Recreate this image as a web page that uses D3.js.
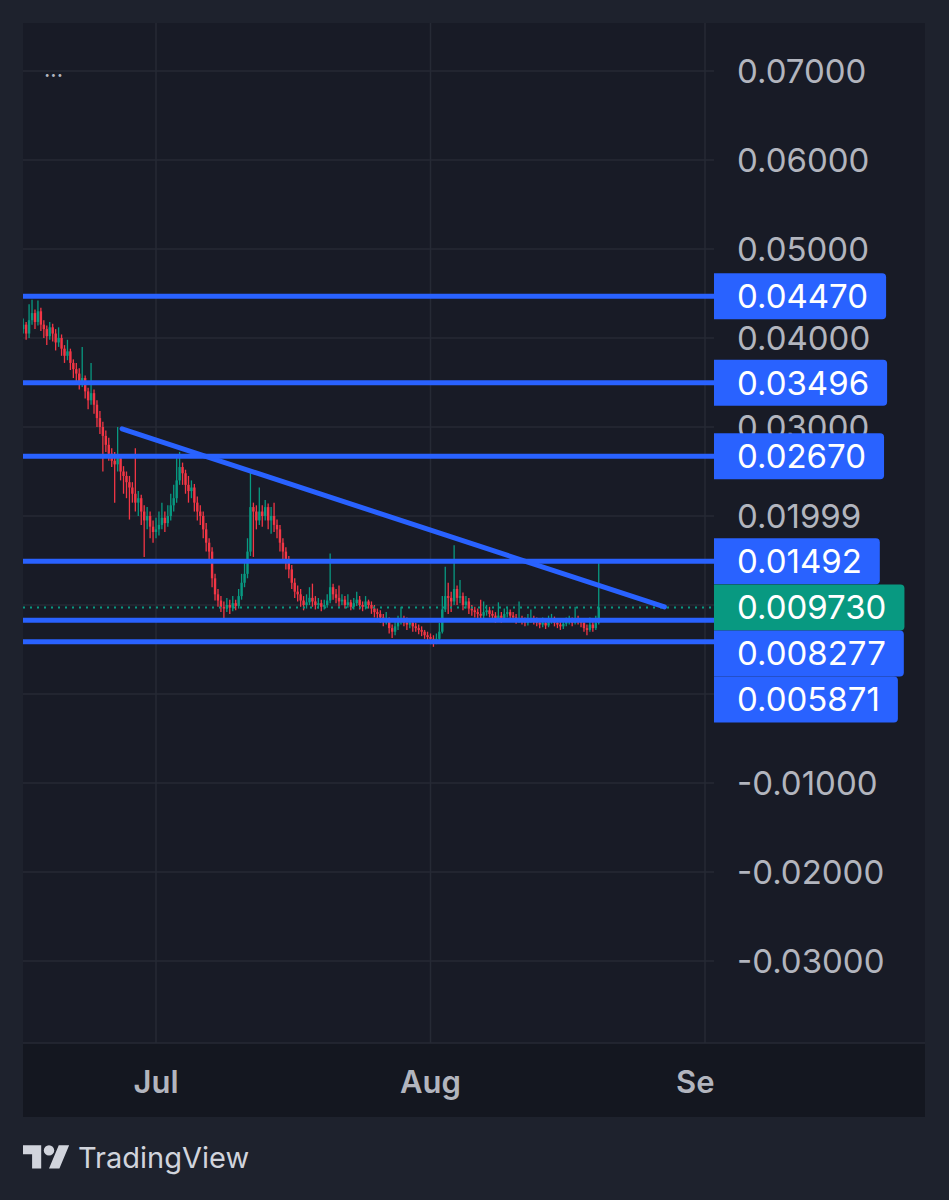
<!DOCTYPE html>
<html lang="en">
<head>
<meta charset="utf-8">
<script src="https://cdn.jsdelivr.net/npm/d3@7"></script>
<style>
  body { margin: 0; background: #1e222d; }
  text { font-family: Inter, "Noto Sans", sans-serif; }
</style>
</head>
<body>
<svg id="chart"></svg>
<script>

// 8h candles, first one at Jun 15 08:00; open of each = previous close
var firstOpen = 0.0432;
var startTime = Date.UTC(2024, 5, 15, 8);
var stepHours = 8;

var closes = [
  .0425,.0410,.0415, .0405,.0420,.0428, .0418,.0430,.0415, .0410,.0402,.0412,
  .0405,.0395,.0400, .0388,.0380,.0385, .0372,.0365,.0360, .0350,.0355,.0340,
  .0330,.0338,.0325, .0310,.0300,.0290, .0280,.0270,.0262, .0258,.0265,.0250,
  .0245,.0238,.0232, .0225,.0215,.0220, .0205,.0195,.0200, .0188,.0182,.0185,
  .0190,.0198,.0192, .0200,.0212,.0220, .0240,.0255,.0248, .0235,.0228,.0232,
  .0215,.0205,.0200, .0185,.0170,.0160, .0130,.0112,.0105, .0098,.0096,.0100,
  .0097,.0102,.0099, .0110,.0125,.0135, .0160,.0210,.0205, .0195,.0205,.0200,
  .0210,.0195,.0200, .0190,.0185,.0170, .0160,.0150,.0140, .0125,.0115,.0112,
  .0105,.0100,.0103, .0108,.0104,.0100, .0102,.0098,.0100, .0105,.0120,.0112,
  .0108,.0104,.0106, .0100,.0103,.0098, .0102,.0106,.0100, .0098,.0104,.0100,
  .0096,.0092,.0090, .0086,.0082,.0084, .0074,.0070,.0076, .0082,.0085,.0080,
  .0078,.0080,.0076, .0074,.0072,.0070, .0066,.0064,.0062, .0060,.0062,.0070,
  .0095,.0110,.0108, .0104,.0118,.0108, .0110,.0100,.0104, .0096,.0094,.0092,
  .0090,.0088,.0092, .0094,.0090,.0088, .0085,.0088,.0084, .0090,.0092,.0088,
  .0086,.0084,.0085, .0082,.0080,.0083, .0085,.0082,.0080, .0078,.0080,.0077,
  .0082,.0084,.0080, .0078,.0076,.0079, .0081,.0083,.0080, .0085,.0082,.0080,
  .0074,.0072,.0078, .0074,.0080,.00973
];

var highs = [
  .0440,.0428,.0422, .0418,.0438,.0443, .0432,.0442,.0434, .0420,.0414,.0418,
  .0416,.0410,.0412, .0404,.0392,.0398, .0388,.0376,.0372, .0366,.0390,.0358,
  .0344,.0372,.0342, .0330,.0318,.0306, .0296,.0288,.0276, .0272,.0300,.0268,
  .0256,.0250,.0245, .0238,.0276,.0228, .0224,.0212,.0210, .0205,.0195,.0198,
  .0205,.0215,.0205, .0212,.0225,.0235, .0265,.0272,.0260, .0252,.0245,.0240,
  .0236,.0222,.0212, .0205,.0192,.0175, .0165,.0135,.0118, .0110,.0104,.0108,
  .0106,.0110,.0106, .0118,.0135,.0150, .0175,.0252,.0215, .0212,.0232,.0212,
  .0218,.0214,.0210, .0215,.0196,.0190, .0175,.0165,.0155, .0145,.0130,.0122,
  .0118,.0110,.0112, .0120,.0124,.0110, .0108,.0106,.0106, .0112,.0158,.0124,
  .0118,.0122,.0112, .0110,.0112,.0106, .0108,.0115,.0110, .0104,.0110,.0106,
  .0104,.0100,.0096, .0094,.0090,.0092, .0086,.0078,.0082, .0088,.0098,.0088,
  .0086,.0084,.0083, .0080,.0078,.0076, .0072,.0070,.0068, .0066,.0068,.0080,
  .0110,.0143,.0125, .0115,.0167,.0122, .0128,.0114,.0110, .0108,.0100,.0098,
  .0096,.0106,.0104, .0100,.0098,.0094, .0092,.0103,.0092, .0096,.0098,.0095,
  .0092,.0090,.0104, .0088,.0086,.0090, .0095,.0088,.0086, .0084,.0086,.0083,
  .0088,.0090,.0087, .0084,.0082,.0084, .0086,.0088,.0086, .0098,.0088,.0085,
  .0082,.0078,.0086, .0082,.0088,.0147
];

var lows = [
  .0420,.0402,.0405, .0398,.0400,.0415, .0410,.0414,.0408, .0400,.0392,.0398,
  .0396,.0386,.0390, .0380,.0372,.0375, .0364,.0355,.0350, .0342,.0345,.0332,
  .0320,.0325,.0315, .0300,.0292,.0250, .0272,.0262,.0255, .0215,.0250,.0240,
  .0225,.0220,.0196, .0215,.0205,.0200, .0190,.0154,.0185, .0175,.0170,.0175,
  .0178,.0185,.0182, .0188,.0195,.0205, .0215,.0235,.0235, .0225,.0215,.0220,
  .0205,.0195,.0190, .0175,.0160,.0150, .0120,.0105,.0098, .0092,.0085,.0092,
  .0090,.0093,.0094, .0096,.0106,.0120, .0130,.0155,.0154, .0185,.0190,.0188,
  .0195,.0185,.0180, .0182,.0175,.0160, .0150,.0140,.0130, .0118,.0108,.0104,
  .0098,.0094,.0096, .0100,.0098,.0095, .0096,.0093,.0095, .0097,.0102,.0106,
  .0102,.0098,.0100, .0096,.0097,.0094, .0095,.0099,.0095, .0093,.0095,.0096,
  .0090,.0086,.0084, .0080,.0076,.0078, .0068,.0063,.0066, .0072,.0078,.0076,
  .0072,.0074,.0070, .0070,.0067,.0065, .0062,.0058,.0056, .0053,.0056,.0058,
  .0068,.0092,.0090, .0092,.0100,.0100, .0102,.0094,.0096, .0090,.0088,.0086,
  .0084,.0084,.0085, .0088,.0086,.0083, .0080,.0082,.0080, .0082,.0086,.0083,
  .0082,.0079,.0080, .0078,.0076,.0077, .0080,.0078,.0076, .0074,.0075,.0073,
  .0075,.0079,.0076, .0074,.0072,.0073, .0076,.0078,.0076, .0078,.0078,.0075,
  .0070,.0066,.0070, .0070,.0072,.0078
];

var priceTicks = [0.07, 0.06, 0.05, 0.04, 0.03, 0.02, 0.01, 0, -0.01, -0.02, -0.03];
var priceTickLabels = ["0.07000", "0.06000", "0.05000", "0.04000", "0.03000", "0.01999",
                       "0.01000", "0.00000", "-0.01000", "-0.02000", "-0.03000"];
var monthTicks = [Date.UTC(2024, 6, 1), Date.UTC(2024, 7, 1), Date.UTC(2024, 8, 1)];
var monthLabels = ["Jul", "Aug", "Sep"];

var levels = [0.0447, 0.03496, 0.0267, 0.01492, 0.008277, 0.005871];
var levelLabels = ["0.04470", "0.03496", "0.02670", "0.01492", "0.008277", "0.005871"];
var lastPrice = 0.00973;
var lastPriceLabel = "0.009730";

var trendTimes = [Date.UTC(2024, 5, 27, 4), Date.UTC(2024, 7, 27, 10)];
var trendPrices = [0.0298, 0.00978];

var W = 949, H = 1200;
var frame = { left: 23, top: 23, right: 925, bottom: 1117 };
var plotRight = 714, plotBottom = 1043;
var up = "#089981", down = "#f23645", lineBlue = "#2962ff";
var fontSize = 33, tagH = 46;

var svg = d3.select("#chart").attr("width", W).attr("height", H);

svg.append("rect").attr("width", W).attr("height", H).attr("fill", "#1e222d");
svg.append("rect")
  .attr("x", frame.left).attr("y", frame.top)
  .attr("width", frame.right - frame.left).attr("height", frame.bottom - frame.top)
  .attr("fill", "#181b26");
svg.append("rect")
  .attr("x", frame.left).attr("y", plotBottom)
  .attr("width", frame.right - frame.left).attr("height", frame.bottom - plotBottom)
  .attr("fill", "#141720");

var x = d3.scaleUtc()
  .domain([monthTicks[0], monthTicks[2]])
  .range([156, 705]);

var y = d3.scaleLinear()
  .domain([0, 0.07])
  .range([694, 71]);

svg.append("clipPath").attr("id", "plotClip")
  .append("rect")
  .attr("x", frame.left).attr("y", frame.top)
  .attr("width", plotRight - frame.left).attr("height", plotBottom - frame.top);

svg.append("clipPath").attr("id", "timeClip")
  .append("rect")
  .attr("x", frame.left).attr("y", plotBottom)
  .attr("width", plotRight - frame.left).attr("height", frame.bottom - plotBottom);

var plot = svg.append("g").attr("clip-path", "url(#plotClip)");

// grid
plot.selectAll(".hgrid").data(priceTicks).enter().append("line")
  .attr("x1", frame.left).attr("x2", plotRight)
  .attr("y1", function(d) { return y(d); })
  .attr("y2", function(d) { return y(d); })
  .attr("stroke", "#262a35").attr("stroke-width", 1.5);

plot.selectAll(".vgrid").data(monthTicks).enter().append("line")
  .attr("x1", function(d) { return x(d); })
  .attr("x2", function(d) { return x(d); })
  .attr("y1", frame.top).attr("y2", plotBottom)
  .attr("stroke", "#262a35").attr("stroke-width", 1.5);

svg.append("line")
  .attr("x1", frame.left).attr("x2", frame.right)
  .attr("y1", plotBottom).attr("y2", plotBottom)
  .attr("stroke", "#262a35").attr("stroke-width", 1.5);

// candles
var candles = closes.map(function(c, i) {
  var o = i === 0 ? firstOpen : closes[i - 1];
  return {
    t: startTime + i * stepHours * 3600 * 1000,
    o: o, c: c,
    h: Math.max(highs[i], o, c),
    l: Math.min(lows[i], o, c)
  };
});

var cg = plot.selectAll(".candle").data(candles).enter().append("g");

cg.append("line")
  .attr("x1", function(d) { return x(d.t); })
  .attr("x2", function(d) { return x(d.t); })
  .attr("y1", function(d) { return y(d.h); })
  .attr("y2", function(d) { return y(d.l); })
  .attr("stroke", function(d) { return d.c >= d.o ? up : down; })
  .attr("stroke-width", 1.3);

cg.append("rect")
  .attr("x", function(d) { return x(d.t) - 1.2; })
  .attr("width", 2.4)
  .attr("y", function(d) { return y(Math.max(d.o, d.c)); })
  .attr("height", function(d) { return Math.max(1.5, Math.abs(y(d.o) - y(d.c))); })
  .attr("fill", function(d) { return d.c >= d.o ? up : down; });

// last price dotted line
plot.append("line")
  .attr("x1", frame.left).attr("x2", plotRight)
  .attr("y1", y(lastPrice)).attr("y2", y(lastPrice))
  .attr("stroke", up).attr("stroke-width", 2)
  .attr("stroke-dasharray", "2,5");

// horizontal levels
svg.selectAll(".level").data(levels).enter().append("line")
  .attr("x1", frame.left).attr("x2", plotRight)
  .attr("y1", function(d) { return y(d); })
  .attr("y2", function(d) { return y(d); })
  .attr("stroke", lineBlue).attr("stroke-width", 5);

// trend line
plot.append("line")
  .attr("x1", x(trendTimes[0])).attr("y1", y(trendPrices[0]))
  .attr("x2", x(trendTimes[1])).attr("y2", y(trendPrices[1]))
  .attr("stroke", lineBlue).attr("stroke-width", 5)
  .attr("stroke-linecap", "round");

svg.append("text")
  .attr("x", 44).attr("y", 77)
  .attr("fill", "#b2b5be").attr("font-size", 22)
  .text("...");

// price labels, stacked so they do not overlap
var tags = levels.map(function(v, i) {
  return { v: v, text: levelLabels[i], color: lineBlue };
});
tags.push({ v: lastPrice, text: lastPriceLabel, color: up });
tags.sort(function(a, b) { return b.v - a.v; });

var prevBottom = -Infinity;
tags.forEach(function(t) {
  var top = Math.max(y(t.v) - tagH / 2, prevBottom);
  t.top = top;
  prevBottom = top + tagH;
});

// price axis ticks; a tick hidden entirely under a tag is not drawn
var visibleTicks = priceTicks.filter(function(v) {
  var ty = y(v);
  return !tags.some(function(t) { return ty - 12 >= t.top && ty + 12 <= t.top + tagH; });
});
svg.selectAll(".ptick").data(visibleTicks).enter().append("text")
  .attr("x", 737)
  .attr("y", function(d) { return y(d); })
  .attr("dy", "0.36em")
  .attr("fill", "#b2b5be").attr("font-size", fontSize)
  .text(function(d) { return priceTickLabels[priceTicks.indexOf(d)]; });

// time axis
svg.append("g").attr("clip-path", "url(#timeClip)")
  .selectAll("text").data(monthTicks).enter().append("text")
  .attr("x", function(d) { return x(d); })
  .attr("y", 1093)
  .attr("text-anchor", "middle")
  .attr("fill", "#b2b5be").attr("font-size", 31).attr("font-weight", 600)
  .text(function(d, i) { return monthLabels[i]; });

var tg = svg.selectAll(".tag").data(tags).enter().append("g");
tg.each(function(d) {
  var g = d3.select(this);
  var txt = g.append("text")
    .attr("x", 737).attr("y", d.top + tagH / 2)
    .attr("dy", "0.36em")
    .attr("fill", "#ffffff").attr("font-size", fontSize)
    .text(d.text);
  var w = txt.node().getComputedTextLength() + 23 + 18;
  var r = 4, x0 = plotRight, y0 = d.top;
  g.insert("path", "text")
    .attr("d", "M" + x0 + "," + y0 + "H" + (x0 + w - r) +
      "Q" + (x0 + w) + "," + y0 + " " + (x0 + w) + "," + (y0 + r) +
      "V" + (y0 + tagH - r) +
      "Q" + (x0 + w) + "," + (y0 + tagH) + " " + (x0 + w - r) + "," + (y0 + tagH) +
      "H" + x0 + "Z")
    .attr("fill", d.color);
});

// TradingView mark
var logo = svg.append("g")
  .attr("transform", "translate(23,1140) scale(1.3)")
  .attr("fill", "#d1d4dc");
logo.append("path").attr("d", "M14 22H7V11H0V4h14v18zM28 22h-8l7.5-18h8L28 22z");
logo.append("circle").attr("cx", 20).attr("cy", 8).attr("r", 4);

svg.append("text")
  .attr("x", 78).attr("y", 1168)
  .attr("fill", "#d1d4dc").attr("font-size", 29)
  .text("TradingView");

</script>
</body>
</html>
